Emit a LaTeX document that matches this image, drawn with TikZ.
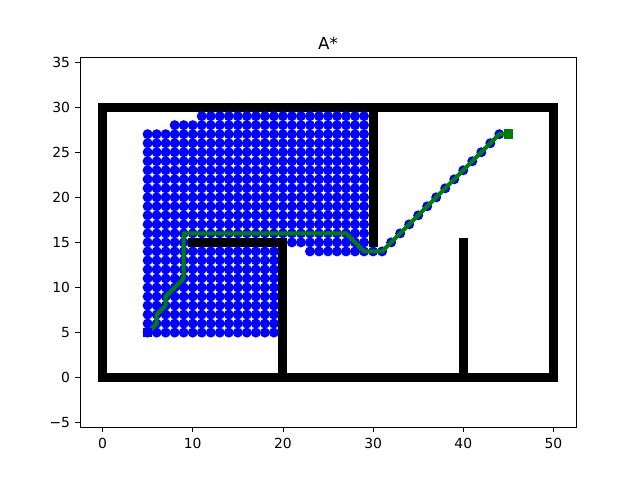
\documentclass[tikz,border=0pt]{standalone}
\usepackage{fontspec}
\setmainfont{DejaVu Sans}
\definecolor{mplgreen}{RGB}{0,128,0}
\definecolor{mplblue}{RGB}{0,0,255}
\tikzset{
  wall/.style={line width=6.75pt, line cap=rect, black},
  visited/.style={fill=mplblue},
  route/.style={line width=3pt, line cap=rect, line join=round, mplgreen},
  spine/.style={line width=0.6pt, black},
  ticklab/.style={inner sep=0pt, font=\fontsize{10.42pt}{12pt}\selectfont}
}
\begin{document}
\begin{tikzpicture}[x=0.75pt,y=0.75pt]
\useasboundingbox (0,0) rectangle (640,480);
\fill[white] (0,0) rectangle (640,480);
\begin{scope}[shift={(76.909pt,76.748pt)},x=6.76364pt,y=6.76364pt]
  % obstacles
  \draw[wall] (0,0) -- (50,0);
  \draw[wall] (0,30) -- (50,30);
  \draw[wall] (0,0) -- (0,30);
  \draw[wall] (50,0) -- (50,30);
  \draw[wall] (20,0) -- (20,15);
  \draw[wall] (10,15) -- (20,15);
  \draw[wall] (30,15) -- (30,30);
  \draw[wall] (40,0) -- (40,15);
  % visited cells
  \foreach \y in {16,...,27} \foreach \x in {5,...,29} \fill[visited] (\x,\y) circle[radius=3.75pt];
  \foreach \x in {8,...,29} \fill[visited] (\x,28) circle[radius=3.75pt];
  \foreach \x in {11,...,29} \fill[visited] (\x,29) circle[radius=3.75pt];
  \foreach \x in {5,...,9} \fill[visited] (\x,15) circle[radius=3.75pt];
  \foreach \x in {21,...,29} \fill[visited] (\x,15) circle[radius=3.75pt];
  \foreach \y in {5,...,14} \foreach \x in {5,...,19} \fill[visited] (\x,\y) circle[radius=3.75pt];
  \foreach \x in {23,...,31} \fill[visited] (\x,14) circle[radius=3.75pt];
  \foreach \i in {0,...,12} \fill[visited] (32+\i,15+\i) circle[radius=3.75pt];
  % path
  \draw[route] (5,5) -- (6,6) -- (6,7) -- (7,8) -- (7,9) -- (9,11) -- (9,16)
    -- (27,16) -- (29,14) -- (31,14) -- (44,27) -- (45,27);
  % start marker
  \fill[mplblue] (5,5) ++(-3.6pt,-3.6pt) rectangle ++(7.2pt,7.2pt);
  % goal
  \fill[mplgreen] (45,27) ++(-3.6pt,-3.6pt) rectangle ++(7.2pt,7.2pt);
\end{scope}
% axes frame
\draw[spine] (80,52.8) rectangle (576,422.4);
\foreach \v in {0,10,20,30,40,50}{
  \draw[spine] ({102.545+\v*9.01818},52.8) -- ++(0,-4.86);
  \node[ticklab,anchor=north] (xl\v) at ({102.545+\v*9.01818},42.5) {\v};
}
\foreach \v/\t [count=\k] in {-5/−5,0/0,5/5,10/10,15/15,20/20,25/25,30/30,35/35}{
  \draw[spine] (80,{102.33+\v*9.01818}) -- ++(-4.86,0);
  \node[ticklab,anchor=east] (yl\k) at (70.3,{102.33+\v*9.01818}) {\t};
}
\node[inner sep=0pt,anchor=base,font=\fontsize{12.5pt}{14pt}\selectfont] (title) at (328,430.7) {A*};
\end{tikzpicture}
\end{document}
